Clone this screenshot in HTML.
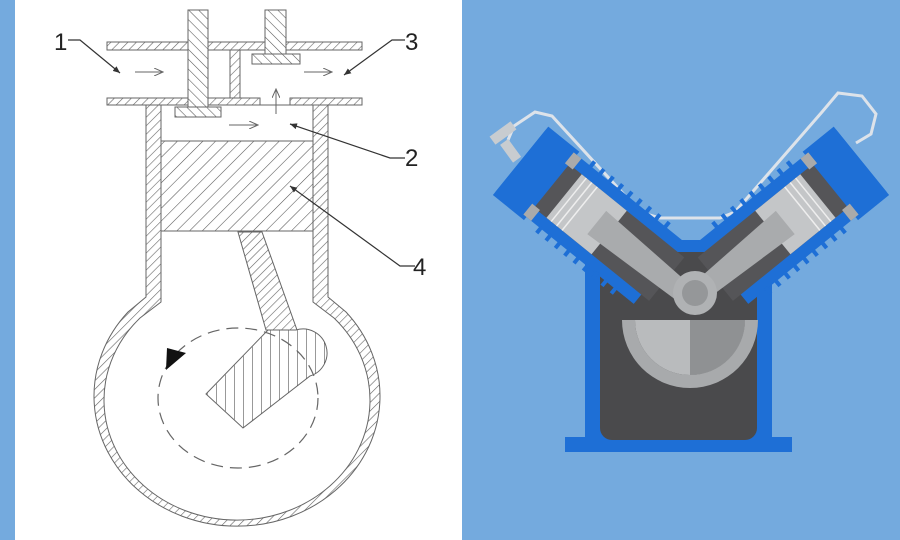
<!DOCTYPE html>
<html><head><meta charset="utf-8"><style>
html,body{margin:0;padding:0;width:900px;height:540px;overflow:hidden;background:#74aade}
svg{display:block}
</style></head><body>
<svg width="900" height="540" viewBox="0 0 900 540" xmlns="http://www.w3.org/2000/svg">
<defs>
<pattern id="h" patternUnits="userSpaceOnUse" width="6" height="6" patternTransform="rotate(45)">
<rect width="6" height="6" fill="#fff"/><line x1="0" y1="0" x2="0" y2="6" stroke="#666" stroke-width="1.2"/></pattern>
<pattern id="h2" patternUnits="userSpaceOnUse" width="9" height="9" patternTransform="rotate(45)">
<rect width="9" height="9" fill="#fff"/><line x1="0" y1="0" x2="0" y2="9" stroke="#555" stroke-width="1.1"/></pattern>
<pattern id="hb" patternUnits="userSpaceOnUse" width="7" height="7" patternTransform="rotate(-45)">
<rect width="7" height="7" fill="#fff"/><line x1="0" y1="0" x2="0" y2="7" stroke="#555" stroke-width="1.1"/></pattern>
<pattern id="hv" patternUnits="userSpaceOnUse" width="9" height="9">
<rect width="9" height="9" fill="#fff"/><line x1="0" y1="0" x2="0" y2="9" stroke="#555" stroke-width="1.2"/></pattern>
<marker id="ar" markerWidth="10" markerHeight="8" refX="9" refY="4" orient="auto" markerUnits="userSpaceOnUse">
<path d="M0,0 L9,4 L0,8" fill="none" stroke="#666" stroke-width="1"/></marker>
<marker id="al" markerWidth="8" markerHeight="6" refX="7" refY="3" orient="auto" markerUnits="userSpaceOnUse">
<path d="M0,0 L7,3 L0,6 Z" fill="#333"/></marker>
</defs>
<rect x="15" y="0" width="447" height="540" fill="#fff"/>
<g stroke="#666" stroke-width="1">
<path d="M146,105 V297 L128,312 A143,130 0 1 0 346,312 L328,297 V105 Z" fill="url(#h)"/>
<path d="M161,105 V302 L140,318 A133,120 0 1 0 334,318 L313,302 V105 Z" fill="#fff"/>
<rect x="107" y="42" width="255" height="8" fill="url(#h)"/>
<rect x="107" y="98" width="153" height="7" fill="url(#h)"/>
<rect x="290" y="98" width="72" height="7" fill="url(#h)"/>
<rect x="230" y="50" width="10" height="48" fill="url(#h)"/>
<rect x="188" y="10" width="20" height="100" fill="url(#hb)"/>
<rect x="175" y="107" width="46" height="10" fill="url(#hb)"/>
<rect x="265" y="10" width="21" height="45" fill="url(#hb)"/>
<rect x="252" y="54" width="48" height="10" fill="url(#hb)"/>
<rect x="161" y="141" width="152" height="90" fill="url(#h2)"/>
<polygon points="238,232 262,232 297,330 266,330" fill="url(#h)"/>
<path d="M206,394 L268,330 L296,330 A24,24 0 0 1 310,376 L243,428 Z" fill="url(#hv)"/>
</g>
<ellipse cx="238" cy="398" rx="80" ry="70" fill="none" stroke="#666" stroke-width="1.2" stroke-dasharray="12,7"/>
<polygon points="167,348 186,353 166,370" fill="#111"/>
<g stroke="#666" stroke-width="1" fill="none">
<line x1="135" y1="72" x2="163" y2="72" marker-end="url(#ar)"/>
<line x1="304" y1="72" x2="332" y2="72" marker-end="url(#ar)"/>
<line x1="229" y1="125" x2="258" y2="125" marker-end="url(#ar)"/>
<line x1="276" y1="114" x2="276" y2="89" marker-end="url(#ar)"/>
</g>
<g stroke="#333" stroke-width="1.2" fill="none">
<polyline points="68,40 80,40 120,73" marker-end="url(#al)"/>
<polyline points="405,40 392,40 344,75" marker-end="url(#al)"/>
<polyline points="405,158 390,158 290,124" marker-end="url(#al)"/>
<polyline points="415,266 400,266 290,186" marker-end="url(#al)"/>
</g>
<g font-family="Liberation Sans, sans-serif" font-size="24" fill="#222">
<text x="54" y="50">1</text><text x="405" y="50">3</text>
<text x="405" y="166">2</text><text x="413" y="275">4</text>
</g>

<!-- right compressor -->
<polyline points="508,140 514,126 535,112 552,116 640,212 660,218 720,218 735,212 822,112 838,93 862,96 876,114 871,134 856,143" fill="none" stroke="#dde3ea" stroke-width="3"/>
<g fill="#c8ccd0"><rect x="490" y="128" width="26" height="10" transform="rotate(-36 503 133)"/><rect x="505" y="140" width="10" height="22" transform="rotate(-36 510 150)"/></g>
<rect x="565" y="437" width="227" height="15" fill="#1e6fd6"/>
<polygon points="585,445 585,260 640,240 740,240 772,260 772,445" fill="#1e6fd6"/>
<rect x="600" y="252" width="157" height="188" rx="12" fill="#4a4a4c"/>
<g id="cyl" transform="translate(692,298) rotate(-39)">
<rect x="40" y="-40" width="178" height="80" fill="#1e6fd6"/>
<g fill="#1e6fd6">
<rect x="62" y="-46" width="4" height="8"/><rect x="74" y="-46" width="4" height="8"/><rect x="86" y="-46" width="4" height="8"/><rect x="98" y="-46" width="4" height="8"/><rect x="110" y="-46" width="4" height="8"/><rect x="122" y="-46" width="4" height="8"/><rect x="134" y="-46" width="4" height="8"/><rect x="146" y="-46" width="4" height="8"/><rect x="158" y="-46" width="4" height="8"/>
<rect x="62" y="38" width="4" height="8"/><rect x="74" y="38" width="4" height="8"/><rect x="86" y="38" width="4" height="8"/><rect x="98" y="38" width="4" height="8"/><rect x="110" y="38" width="4" height="8"/><rect x="122" y="38" width="4" height="8"/><rect x="134" y="38" width="4" height="8"/><rect x="146" y="38" width="4" height="8"/><rect x="158" y="38" width="4" height="8"/>
</g>
<rect x="30" y="-28" width="150" height="56" fill="#555558"/>
<rect x="104" y="-28" width="58" height="56" fill="#c4c6c8"/>
<g stroke="#eee" stroke-width="1.5"><line x1="142" y1="-28" x2="142" y2="28"/><line x1="149" y1="-28" x2="149" y2="28"/><line x1="156" y1="-28" x2="156" y2="28"/></g>
<polygon points="0,-10 120,-15 120,15 0,10" fill="#a9abad"/>
<rect x="178" y="-44" width="40" height="88" fill="#1e6fd6"/>
<rect x="172" y="-40" width="10" height="14" fill="#aaa"/><rect x="172" y="26" width="10" height="14" fill="#aaa"/>
</g>
<use href="#cyl" transform="translate(1382,0) scale(-1,1)"/>
<path d="M622,320 A68,68 0 0 0 758,320 L745,320 A55,55 0 0 1 635,320 Z" fill="#a8aaac"/>
<path d="M635,320 A55,55 0 0 0 745,320 Z" fill="#b9bbbd"/>
<path d="M690,320 L690,375 A55,55 0 0 0 745,320 Z" fill="#8f9193"/>
<circle cx="695" cy="293" r="22" fill="#b0b2b4"/>
<circle cx="695" cy="293" r="13" fill="#959799"/>
</svg>
</body></html>
